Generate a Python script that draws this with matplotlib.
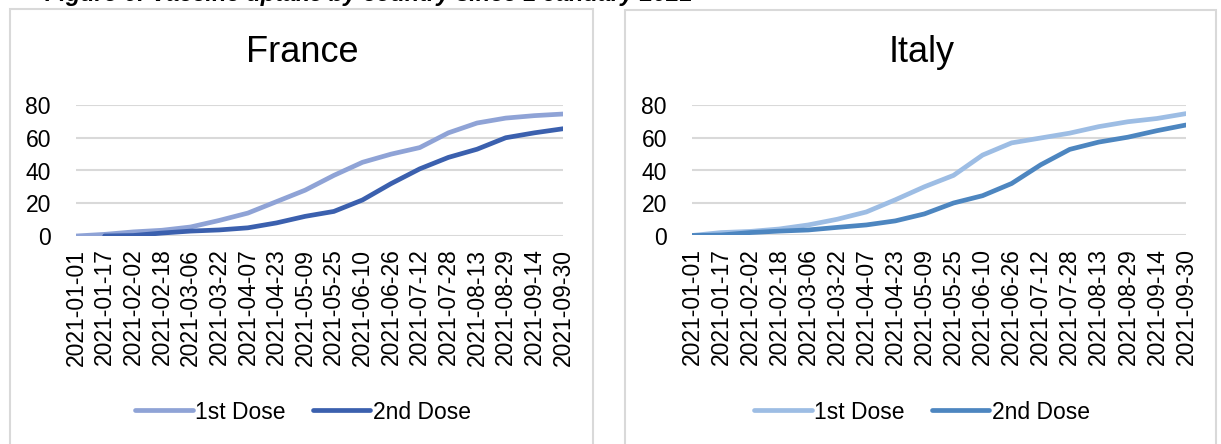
import matplotlib
matplotlib.use("Agg")
import matplotlib.pyplot as plt
import matplotlib.patches as mpatches
import numpy as np
import pandas as pd

plt.rcParams['font.family'] = ['Liberation Sans', 'DejaVu Sans']

date_labels = ["2021-01-01", "2021-01-17", "2021-02-02", "2021-02-18", "2021-03-06",
               "2021-03-22", "2021-04-07", "2021-04-23", "2021-05-09", "2021-05-25",
               "2021-06-10", "2021-06-26", "2021-07-12", "2021-07-28", "2021-08-13",
               "2021-08-29", "2021-09-14", "2021-09-30"]

france_first = [0, 1.0, 2.5, 3.5, 5.5, 9.5, 14, 21, 28, 37, 45, 50, 54, 63, 69, 72, 73.5, 74.5]
france_second = [np.nan, 0, 0.3, 1.8, 3, 3.7, 5, 8, 12, 15, 22, 32, 41, 48, 53, 60, 63, 65.5]
italy_first = [0, 1.8, 2.5, 4, 6.5, 10, 14.5, 22, 30, 37, 49.5, 57, 60, 63, 67, 70, 72, 75]
italy_second = [0, 0.3, 1.8, 2.7, 3.4, 5, 6.5, 9, 13.3, 20, 24.5, 32, 43.5, 53, 57.5, 60.5, 64.5, 68]

series_names = ["1st Dose", "2nd Dose"]
panels = [
    ("France", france_first, france_second, "#8FA3D6", "#3B60AE"),
    ("Italy", italy_first, italy_second, "#9DBDE4", "#4D86C0"),
]

W, H = 1221, 444
fig = plt.figure(figsize=(W / 100, H / 100), dpi=100)

def fx(px):
    return px / W

def fy(py):
    return 1 - py / H

# Caption cut off by the top edge (as in the reference, only descenders show)
fig.text(fx(45), fy(0.5), "Figure 6: Vaccine uptake by country since 1 January 2021",
         fontsize=17, fontweight='bold', fontstyle='italic', va='baseline', ha='left')

# Panel boxes
boxes = [(10, 9, 593, 460), (625, 10, 1216, 460)]
for (x0, y0, x1, y1) in boxes:
    rect = mpatches.Rectangle((fx(x0), fy(y1)), fx(x1 - x0), (y1 - y0) / H,
                              transform=fig.transFigure, fill=False,
                              edgecolor="#D9D9D9", linewidth=1.5, clip_on=False)
    fig.patches.append(rect)

axes_px = [(76, 563, 105, 236), (692, 1186, 105.5, 235.5)]
title_x = [302, 922]
legend_x = [303, 922]

dates = pd.to_datetime(date_labels)

for i, (name, s1, s2, c1, c2) in enumerate(panels):
    x0, x1, ytop, ybot = axes_px[i]
    ax = fig.add_axes([fx(x0), fy(ybot), fx(x1 - x0), (ybot - ytop) / H])
    l1, = ax.plot(dates, s1, color=c1, linewidth=3.4, solid_capstyle='round',
                  solid_joinstyle='round', label=series_names[0])
    l2, = ax.plot(dates, s2, color=c2, linewidth=3.4, solid_capstyle='round',
                  solid_joinstyle='round', label=series_names[1])
    ax.set_xlim(dates[0], dates[-1])
    ax.set_ylim(0, 80)
    ax.set_yticks([0, 20, 40, 60, 80])
    ax.yaxis.grid(True, color="#D9D9D9", linewidth=1.5)
    ax.set_axisbelow(True)
    ax.set_xticks(dates)
    ax.set_xticklabels(date_labels, rotation=90, fontsize=16.5)
    ax.tick_params(axis='y', labelsize=16.5, length=0, pad=18)
    ax.tick_params(axis='x', length=0, pad=9)
    for sp in ax.spines.values():
        sp.set_visible(False)
    ax.patch.set_alpha(0)
    fig.text(fx(title_x[i]), fy(52), name, fontsize=26, ha='center', va='center')
    fig.legend(handles=[l1, l2], loc='center', bbox_to_anchor=(fx(legend_x[i]), fy(412)),
               frameon=False, ncol=2, fontsize=16.5, handlelength=2.5, handletextpad=0.1,
               columnspacing=1.2)

fig.savefig("out.png", dpi=100)
